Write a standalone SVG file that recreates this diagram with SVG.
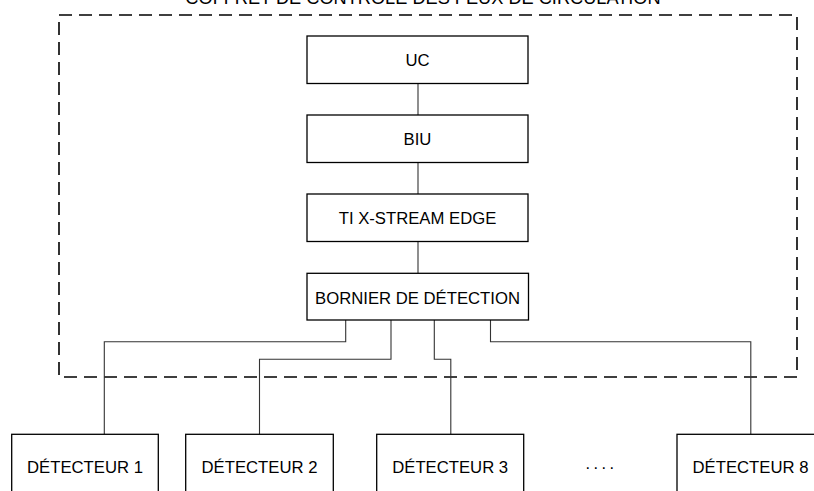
<svg xmlns="http://www.w3.org/2000/svg" width="814" height="491" viewBox="0 0 814 491">
<style>
.box{fill:#fff;stroke:#000;stroke-width:1.3}
.lbl{font-family:"Liberation Sans",Arial,sans-serif;font-size:16.7px;fill:#000;text-anchor:middle}
.conn{fill:none;stroke:#333;stroke-width:1.1}
.frame{fill:none;stroke:#000;stroke-width:1.6;stroke-dasharray:13 7}
</style>
<rect width="814" height="491" fill="#fff"/>
<g id="coffret">
<rect class="frame" x="59" y="15" width="738" height="362"/>
<text class="lbl" x="423" y="4" style="font-size:18.2px">COFFRET DE CONTROLE DES FEUX DE CIRCULATION</text>
</g>
<g id="connectors">
<path class="conn" d="M418 83.5V115 M418 162.5V194 M418 241.5V273"/>
<path class="conn" d="M345.7 320V341.7H104.3V434"/>
<path class="conn" d="M391 320V359.3H259.5V434"/>
<path class="conn" d="M434.3 320V359.3H450.8V434"/>
<path class="conn" d="M490.5 320V341.7H750.8V434"/>
</g>
<g id="uc"><rect class="box" x="307" y="36" width="221" height="47.5"/><text class="lbl" x="417.5" y="65.8">UC</text></g>
<g id="biu"><rect class="box" x="307" y="115" width="221" height="47.5"/><text class="lbl" x="417.5" y="144.8">BIU</text></g>
<g id="ti"><rect class="box" x="307" y="194" width="221" height="47.5"/><text class="lbl" x="417.5" y="223.8">TI X-STREAM EDGE</text></g>
<g id="bornier"><rect class="box" x="307" y="273.3" width="221.5" height="46.7"/><text class="lbl" x="417.5" y="303.5">BORNIER DE DÉTECTION</text></g>
<g id="det1"><rect class="box" x="11.7" y="434.3" width="146.6" height="66"/><text class="lbl" x="85" y="472.7">DÉTECTEUR 1</text></g>
<g id="det2"><rect class="box" x="185.7" y="434.3" width="147.6" height="66"/><text class="lbl" x="259.5" y="472.7">DÉTECTEUR 2</text></g>
<g id="det3"><rect class="box" x="376.7" y="434.3" width="147" height="66"/><text class="lbl" x="450.2" y="472.7">DÉTECTEUR 3</text></g>
<g id="dots"><text class="lbl" x="601" y="472.7" style="letter-spacing:2.5px">····</text></g>
<g id="det8"><rect class="box" x="677" y="434.3" width="147" height="66"/><text class="lbl" x="750.5" y="472.7">DÉTECTEUR 8</text></g>
</svg>
